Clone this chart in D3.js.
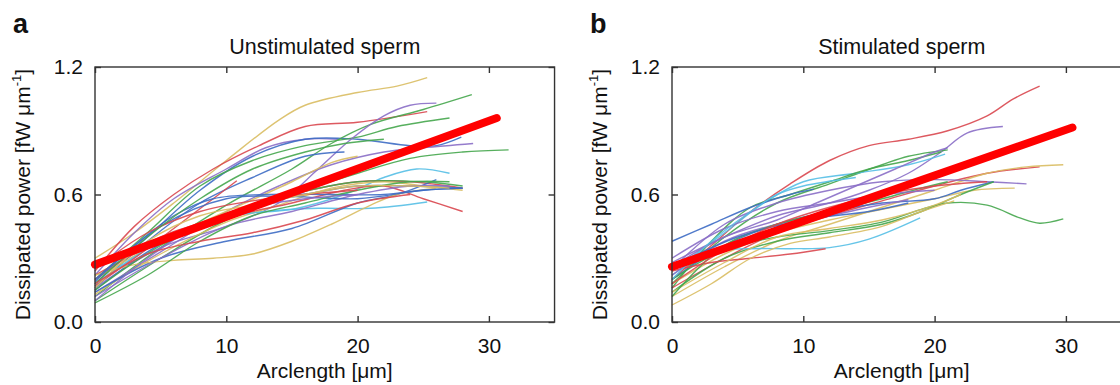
<!DOCTYPE html>
<html>
<head>
<meta charset="utf-8">
<script src="https://cdn.jsdelivr.net/npm/d3@7"></script>
<style>
  body { margin: 0; background: #fff; }
  svg { display: block; font-family: "Liberation Sans", Arial, sans-serif; }
</style>
</head>
<body>
<div id="chart"></div>
<script>
// tick values
const xTicks = [0, 10, 20, 30];
const yTicks = [0, 0.6, 1.2];

// panel titles
const panelLetters = ['a', 'b'];
const panelTitles = ['Unstimulated sperm', 'Stimulated sperm'];

// mean fits (thick red lines)
const meanUnstim = [[0, 0.27], [30.6, 0.96]];
const meanStim = [[0, 0.26], [30.5, 0.915]];

// individual cells, unstimulated
const unstimCurves = [
  { c: 'gold',   pts: [[0,0.30],[3,0.42],[6,0.56],[10,0.76],[14,0.95],[16,1.02],[20,1.08],[23,1.11],[25.3,1.15]] },
  { c: 'red',    pts: [[0,0.24],[3,0.45],[6,0.6],[9,0.72],[12.5,0.83],[16,0.92],[20,0.94],[25.3,0.99]] },
  { c: 'purple', pts: [[0,0.22],[3,0.42],[6,0.58],[10,0.72],[13,0.82],[16,0.86],[18.5,0.86]] },
  { c: 'blue',   pts: [[0,0.18],[4,0.4],[8,0.62],[12,0.78],[16,0.86],[20,0.86],[24,0.83],[26,0.83],[27.9,0.87]] },
  { c: 'green',  pts: [[0,0.12],[5,0.35],[10,0.55],[15,0.72],[18,0.84],[21,0.93],[25,1.0],[28.7,1.07]] },
  { c: 'green',  pts: [[0,0.2],[4,0.42],[8,0.64],[12,0.76],[16,0.83],[20,0.87],[23,0.92],[27,0.96]] },
  { c: 'purple', pts: [[0,0.16],[5,0.35],[10,0.45],[14,0.56],[17,0.72],[19.5,0.86],[22,0.97],[24,1.02],[26,1.03]] },
  { c: 'purple', pts: [[0,0.14],[5,0.33],[10,0.52],[14,0.64],[18,0.74],[22,0.8],[25,0.82],[28.8,0.84]] },
  { c: 'green',  pts: [[0,0.1],[5,0.3],[10,0.48],[15,0.6],[20,0.7],[24,0.77],[28,0.8],[31.5,0.81]] },
  { c: 'blue',   pts: [[0,0.16],[4,0.38],[8,0.56],[12,0.68],[16,0.78],[19,0.8]] },
  { c: 'gold',   pts: [[0,0.2],[5,0.38],[10,0.52],[15,0.66],[18,0.75],[20,0.78]] },
  { c: 'cyan',   pts: [[0,0.17],[5,0.38],[10,0.5],[15,0.53],[19,0.6],[22,0.68],[24.5,0.72],[27,0.7]] },
  { c: 'red',    pts: [[0,0.2],[5,0.4],[10,0.5],[15,0.6],[20,0.66],[24,0.66],[28,0.63]] },
  { c: 'blue',   pts: [[0,0.15],[4,0.33],[8,0.46],[12,0.55],[16,0.6],[20,0.64],[24,0.64],[28,0.63]] },
  { c: 'gold',   pts: [[0,0.13],[5,0.32],[10,0.47],[14,0.55],[18,0.63],[22,0.66],[25,0.64],[28,0.62]] },
  { c: 'red',    pts: [[0,0.22],[5,0.38],[10,0.49],[15,0.56],[19,0.62],[22,0.64],[25,0.58],[28,0.52]] },
  { c: 'cyan',   pts: [[0,0.18],[5,0.38],[9,0.48],[13,0.52],[17,0.535],[21,0.535],[25.3,0.565]] },
  { c: 'blue',   pts: [[0,0.14],[5,0.3],[10,0.38],[15,0.44],[20,0.56],[23,0.6],[26,0.67]] },
  { c: 'red',    pts: [[0,0.17],[3,0.3],[6,0.44],[9,0.58],[10.8,0.665]] },
  { c: 'gold',   pts: [[0,0.22],[3,0.27],[6,0.29],[9,0.3],[12,0.32],[15,0.38],[18,0.46],[21,0.55],[23,0.6],[26,0.63]] },
  { c: 'blue',   pts: [[0,0.2],[3,0.36],[6,0.5],[9,0.58],[13,0.6],[18,0.6],[22,0.6],[25,0.62],[28,0.63]] },
  { c: 'purple', pts: [[0,0.12],[5,0.3],[10,0.45],[15,0.52],[20,0.6],[24,0.64],[27,0.64]] },
  { c: 'green',  pts: [[0,0.15],[5,0.36],[10,0.5],[15,0.6],[20,0.66],[25,0.66],[28,0.64]] },
  { c: 'blue',   pts: [[0,0.19],[5,0.45],[10,0.58],[15,0.59],[20,0.58],[25,0.62],[28,0.63]] },
  { c: 'green',  pts: [[0,0.09],[4,0.22],[8,0.38],[12,0.5],[16,0.56],[20,0.62],[24,0.66],[27,0.66]] },
  { c: 'purple', pts: [[0,0.1],[4,0.3],[8,0.46],[12,0.54],[16,0.58],[20,0.6]] },
  { c: 'red',    pts: [[0,0.25],[4,0.42],[8,0.52],[12,0.57],[16,0.6],[20,0.62]] },
  { c: 'gold',   pts: [[0,0.16],[4,0.38],[8,0.5],[12,0.55],[16,0.6],[20,0.64],[24,0.64],[27,0.63]] },
  { c: 'green',  pts: [[0,0.18],[4,0.4],[8,0.58],[12,0.72],[16,0.8],[19,0.84],[22,0.86]] },
  { c: 'red',    pts: [[0,0.18],[4,0.32],[8,0.38],[12,0.42],[16,0.48],[20,0.56],[24,0.6]] }
];

// individual cells, stimulated
const stimCurves = [
  { c: 'red',    pts: [[0,0.2],[3,0.36],[6,0.52],[9,0.65],[12,0.76],[15,0.83],[18,0.86],[21,0.9],[24,0.97],[26,1.05],[28,1.11]] },
  { c: 'purple', pts: [[0,0.28],[4,0.4],[8,0.5],[12,0.56],[15,0.62],[18,0.7],[20.5,0.8],[22.5,0.89],[25.2,0.92]] },
  { c: 'green',  pts: [[0,0.18],[4,0.4],[8,0.56],[12,0.65],[16,0.74],[18,0.78],[21,0.81]] },
  { c: 'cyan',   pts: [[0,0.24],[4,0.42],[7,0.56],[10,0.66],[14,0.7],[18,0.74],[20.8,0.79]] },
  { c: 'green',  pts: [[0,0.16],[3,0.38],[6,0.54],[9,0.6],[12,0.66],[15,0.72],[18,0.76],[20.5,0.8]] },
  { c: 'blue',   pts: [[0,0.38],[3,0.46],[6,0.54],[9,0.6],[10.8,0.625]] },
  { c: 'red',    pts: [[0,0.16],[4,0.3],[8,0.42],[12,0.5],[16,0.57],[20,0.64],[24,0.7],[28,0.73]] },
  { c: 'gold',   pts: [[0,0.12],[4,0.26],[8,0.38],[12,0.46],[16,0.54],[20,0.62],[24,0.7],[27,0.73],[29.8,0.74]] },
  { c: 'purple', pts: [[0,0.25],[4,0.46],[8,0.56],[12,0.62],[16,0.66],[20,0.67],[24,0.66],[27,0.65]] },
  { c: 'gold',   pts: [[0,0.18],[4,0.32],[8,0.42],[12,0.48],[16,0.53],[20,0.58],[23,0.62],[26.1,0.63]] },
  { c: 'blue',   pts: [[0,0.2],[4,0.36],[8,0.46],[12,0.52],[16,0.56],[20,0.58],[22,0.62],[24.5,0.66]] },
  { c: 'green',  pts: [[0,0.14],[4,0.3],[8,0.38],[12,0.42],[16,0.46],[19,0.52],[22,0.6],[24.5,0.66]] },
  { c: 'green',  pts: [[0,0.2],[4,0.34],[8,0.4],[12,0.43],[16,0.47],[19,0.53],[21,0.56],[24,0.55],[26.5,0.49],[28,0.465],[29.8,0.485]] },
  { c: 'cyan',   pts: [[0,0.22],[3,0.33],[6,0.345],[9,0.345],[12,0.35],[15,0.39],[18.9,0.49]] },
  { c: 'red',    pts: [[0,0.24],[3,0.28],[6,0.3],[9,0.32],[11.7,0.345]] },
  { c: 'purple', pts: [[0,0.22],[4,0.38],[8,0.46],[12,0.5],[15,0.54],[18,0.575]] },
  { c: 'gold',   pts: [[0,0.08],[3,0.18],[6,0.3],[9,0.37],[12,0.4],[16,0.45],[19,0.52],[21.5,0.57]] },
  { c: 'gold',   pts: [[0,0.14],[4,0.28],[8,0.4],[12,0.44],[16,0.48],[20,0.55],[22,0.6]] },
  { c: 'green',  pts: [[0,0.12],[4,0.36],[8,0.46],[12,0.52],[16,0.58],[19,0.63],[21,0.66]] },
  { c: 'purple', pts: [[0,0.3],[4,0.44],[8,0.52],[12,0.56],[16,0.6],[20,0.62]] },
  { c: 'blue',   pts: [[0,0.26],[5,0.4],[10,0.48],[15,0.52],[18,0.56]] },
  { c: 'red',    pts: [[0,0.18],[4,0.34],[8,0.46],[12,0.54],[16,0.6],[20,0.64],[24,0.66]] },
  { c: 'purple', pts: [[0,0.26],[4,0.4],[8,0.48],[11,0.56],[14,0.64],[17,0.72],[20,0.8],[21,0.82]] },
  { c: 'cyan',   pts: [[0,0.2],[3,0.38],[6,0.52],[8,0.6],[10,0.64],[14,0.68]] }
];

const colors = {
  blue: '#3d6cc4', green: '#45a64d', red: '#d9474f',
  cyan: '#55bfe6', purple: '#8a6ec6', gold: '#d9bd62'
};

const W = 1120, H = 385;
const svg = d3.select('#chart').append('svg')
  .attr('width', W).attr('height', H)
  .attr('viewBox', [0, 0, W, H]);

const panels = [
  { left: 95, curves: unstimCurves, mean: meanUnstim },
  { left: 672, curves: stimCurves, mean: meanStim }
];

const plotTop = 67, plotBottom = 322, unit = 13.13;
const fontSize = 21;

panels.forEach((p, i) => {
  const x = d3.scaleLinear().domain([0, 35]).range([p.left, p.left + 35 * unit]);
  const y = d3.scaleLinear().domain([0, 1.2]).range([plotBottom, plotTop]);
  const g = svg.append('g');

  const line = d3.line()
    .x(d => x(d[0]))
    .y(d => y(d[1]))
    .curve(d3.curveCatmullRom.alpha(0.5));

  // single cells
  g.selectAll('path.cell')
    .data(p.curves)
    .join('path')
    .attr('class', 'cell')
    .attr('fill', 'none')
    .attr('stroke', d => colors[d.c])
    .attr('stroke-width', 1.4)
    .attr('stroke-opacity', 0.9)
    .attr('d', d => line(d.pts));

  // mean line
  g.append('path')
    .datum(p.mean)
    .attr('fill', 'none')
    .attr('stroke', '#ff0000')
    .attr('stroke-width', 8)
    .attr('stroke-linecap', 'round')
    .attr('d', d3.line().x(d => x(d[0])).y(d => y(d[1])));

  // frame
  const x0 = x.range()[0], x1 = x.range()[1];
  g.append('rect')
    .attr('x', x0).attr('y', plotTop)
    .attr('width', x1 - x0).attr('height', plotBottom - plotTop)
    .attr('fill', 'none').attr('stroke', '#333').attr('stroke-width', 1.4);

  // inward ticks, all four sides
  const axisStyle = sel => {
    sel.select('.domain').remove();
    sel.selectAll('.tick line').attr('stroke', '#333').attr('stroke-width', 1.4);
    sel.selectAll('.tick text').attr('fill', '#111').style('font-size', fontSize + 'px')
      .style('font-family', '"Liberation Sans", Arial, sans-serif');
  };

  g.append('g')
    .attr('transform', `translate(0,${plotBottom})`)
    .call(d3.axisBottom(x).tickValues(xTicks).tickSize(-6).tickPadding(16).tickFormat(d3.format('d')))
    .call(axisStyle);

  g.append('g')
    .attr('transform', `translate(0,${plotTop})`)
    .call(d3.axisTop(x).tickValues(xTicks).tickSize(-6).tickFormat(''))
    .call(axisStyle);

  g.append('g')
    .attr('transform', `translate(${x0},0)`)
    .call(d3.axisLeft(y).tickValues(yTicks).tickSize(-6).tickPadding(12).tickFormat(d3.format('.1f')))
    .call(axisStyle);

  g.append('g')
    .attr('transform', `translate(${x1},0)`)
    .call(d3.axisRight(y).tickValues(yTicks).tickSize(-6).tickFormat(''))
    .call(axisStyle);

  // labels
  const midX = (x0 + x1) / 2;
  g.append('text')
    .attr('x', midX).attr('y', 54)
    .attr('text-anchor', 'middle')
    .style('font-size', '21.5px').attr('fill', '#111')
    .text(panelTitles[i]);

  g.append('text')
    .attr('x', midX).attr('y', 378)
    .attr('text-anchor', 'middle')
    .style('font-size', fontSize + 'px').attr('fill', '#111')
    .text('Arclength [μm]');

  const yl = g.append('text')
    .attr('transform', `translate(${x0 - 65},${(plotTop + plotBottom) / 2}) rotate(-90)`)
    .attr('text-anchor', 'middle')
    .style('font-size', fontSize + 'px').attr('fill', '#111');
  yl.append('tspan').text('Dissipated power [fW μm');
  yl.append('tspan').attr('dy', -9).style('font-size', '13px').text('-1');
  yl.append('tspan').attr('dy', 9).text(']');

  g.append('text')
    .attr('x', x0 - 82).attr('y', 33)
    .style('font-size', '27px').style('font-weight', 'bold').attr('fill', '#111')
    .text(panelLetters[i]);
});
</script>
</body>
</html>
